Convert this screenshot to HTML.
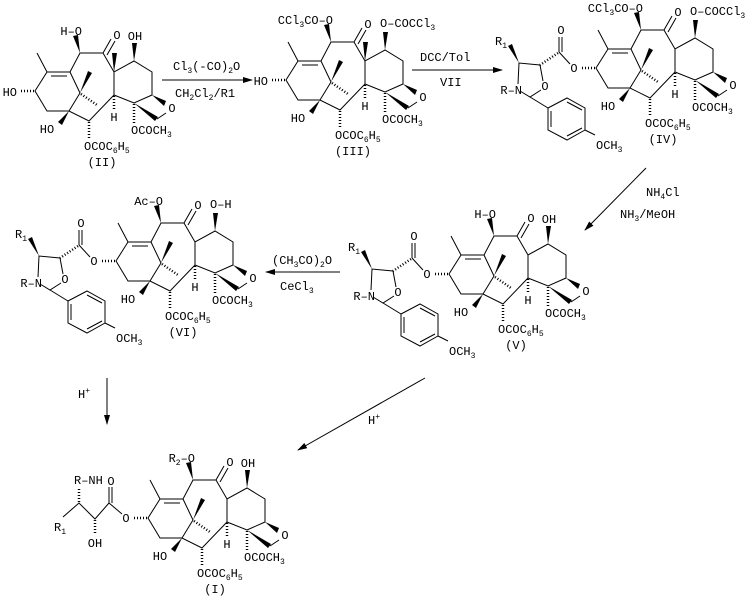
<!DOCTYPE html>
<html><head><meta charset="utf-8"><style>
html,body{margin:0;padding:0;background:#fff;}
svg{display:block;}
text{font-family:"Liberation Mono",monospace;font-size:12px;fill:#000;}
.s{font-size:8px;}
</style></head><body>
<svg width="754" height="597" viewBox="0 0 754 597" xmlns="http://www.w3.org/2000/svg">
<defs>
<g id="core" stroke="#000" stroke-width="1" fill="none">
<path d="M-10,-19 L0,0 L23,0 L33,-19 L56,-19 L67,0 L87,-11 L105,0 L105,23 L87,31 L67,23 L67,0 M67,23 L42,49 L22,39 L0,39 L-12,19 L0,0 M23,0 L33,21 L22,39 M4,4 L20,4 M56,-19 L64,-33 M60,-17 L68,-31 M110,47 L119,41"/>
<g fill="#000" stroke="none">
<polygon points="33,-19 26,-36 31,-37"/>
<polygon points="87,-11 85,-29 90,-29"/>
<polygon points="105,23 119,29 117,34"/>
<polygon points="87,31 111,45 108,49"/>
<polygon points="22,39 11,50 15,53"/>
<polygon points="33,21 41,-1 45,1"/>
</g>
<g stroke-dasharray="1,2" stroke-width="2.5">
<path d="M67,24 L67,39 M87,32 L87,52 M42,50 L42,66 M34,22 L50,33 M-13,19 L-28,19"/>
</g>
</g>
<g id="me"><polygon points="67,0 65,-19 70,-19" fill="#000"/></g>
<g id="side" stroke="#000" stroke-width="1" fill="none">
<path d="M-38,15 L-49,3 M-49,3 L-49,-12 M-46,3 L-46,-12 M-68,16 L-65,32 M-67,41 L-78,48 L-88,42 M-90,35 L-89,14 L-68,16 M-78,48 L-60,59"/>
<path d="M-60,59 L-41,49 L-23,59 L-23,81 L-41,91 L-60,81 Z M-57,62 L-57,78 M-41,53 L-26,61 M-26,79 L-41,87 M-23,81 L-13,86"/>
<path d="M-50,4 L-68,16" stroke-dasharray="1,2" stroke-width="2.5"/>
<polygon points="-89,14 -100,-3 -96,-5" fill="#000" stroke="none"/>
</g>
<marker id="ah" markerWidth="10" markerHeight="6" refX="9" refY="3" orient="auto" markerUnits="userSpaceOnUse"><polygon points="0,0 10,3 0,6" fill="#000"/></marker>
</defs>

<!-- II -->
<g transform="translate(47,72)">
<use href="#core"/><use href="#me"/>
<text x="35" y="-37" text-anchor="end">H–O</text>
<text x="88" y="-32" text-anchor="middle">OH</text>
<text x="70" y="-33" text-anchor="middle">O</text>
<text x="-30" y="24" text-anchor="end">HO</text>
<text x="0" y="61" text-anchor="middle">HO</text>
<text x="67" y="49" text-anchor="middle">H</text>
<text x="125" y="40" text-anchor="middle">O</text>
<text x="84" y="62">OCOCH<tspan class="s" dy="3">3</tspan></text>
<text x="37" y="78">OCOC<tspan class="s" dy="3">6</tspan><tspan dy="-3">H</tspan><tspan class="s" dy="3">5</tspan></text>
<text x="55" y="94" text-anchor="middle">(II)</text>
</g>

<!-- III -->
<g transform="translate(298,61)">
<use href="#core"/><use href="#me"/>
<text x="35" y="-37" text-anchor="end">CCl<tspan class="s" dy="3">3</tspan><tspan dy="-3">CO–O</tspan></text>
<text x="82" y="-34">O–COCCl<tspan class="s" dy="3">3</tspan></text>
<text x="70" y="-33" text-anchor="middle">O</text>
<text x="-30" y="24" text-anchor="end">HO</text>
<text x="0" y="61" text-anchor="middle">HO</text>
<text x="67" y="49" text-anchor="middle">H</text>
<text x="125" y="40" text-anchor="middle">O</text>
<text x="84" y="62">OCOCH<tspan class="s" dy="3">3</tspan></text>
<text x="37" y="78">OCOC<tspan class="s" dy="3">6</tspan><tspan dy="-3">H</tspan><tspan class="s" dy="3">5</tspan></text>
<text x="55" y="94" text-anchor="middle">(III)</text>
</g>

<!-- IV -->
<g transform="translate(608,49)">
<use href="#core"/><use href="#side"/>
<text x="35" y="-37" text-anchor="end">CCl<tspan class="s" dy="3">3</tspan><tspan dy="-3">CO–O</tspan></text>
<text x="82" y="-34">O–COCCl<tspan class="s" dy="3">3</tspan></text>
<text x="70" y="-33" text-anchor="middle">O</text>
<text x="-34" y="23" text-anchor="middle">O</text>
<text x="-47" y="-15" text-anchor="middle">O</text>
<text x="-63" y="41" text-anchor="middle">O</text>
<text x="-113" y="-4">R<tspan class="s" dy="3">1</tspan></text>
<text x="-86" y="45" text-anchor="end">R–N</text>
<text x="-12" y="100">OCH<tspan class="s" dy="3">3</tspan></text>
<text x="0" y="61" text-anchor="middle">HO</text>
<text x="67" y="49" text-anchor="middle">H</text>
<text x="125" y="40" text-anchor="middle">O</text>
<text x="84" y="62">OCOCH<tspan class="s" dy="3">3</tspan></text>
<text x="37" y="78">OCOC<tspan class="s" dy="3">6</tspan><tspan dy="-3">H</tspan><tspan class="s" dy="3">5</tspan></text>
<text x="55" y="94" text-anchor="middle">(IV)</text>
</g>

<!-- V -->
<g transform="translate(461,255)">
<use href="#core"/><use href="#side"/>
<text x="35" y="-37" text-anchor="end">H–O</text>
<text x="88" y="-32" text-anchor="middle">OH</text>
<text x="70" y="-33" text-anchor="middle">O</text>
<text x="-34" y="23" text-anchor="middle">O</text>
<text x="-47" y="-15" text-anchor="middle">O</text>
<text x="-63" y="41" text-anchor="middle">O</text>
<text x="-113" y="-4">R<tspan class="s" dy="3">1</tspan></text>
<text x="-86" y="45" text-anchor="end">R–N</text>
<text x="-12" y="100">OCH<tspan class="s" dy="3">3</tspan></text>
<text x="0" y="61" text-anchor="middle">HO</text>
<text x="67" y="49" text-anchor="middle">H</text>
<text x="125" y="40" text-anchor="middle">O</text>
<text x="84" y="62">OCOCH<tspan class="s" dy="3">3</tspan></text>
<text x="37" y="78">OCOC<tspan class="s" dy="3">6</tspan><tspan dy="-3">H</tspan><tspan class="s" dy="3">5</tspan></text>
<text x="55" y="94" text-anchor="middle">(V)</text>
</g>

<!-- VI -->
<g transform="translate(128,242)">
<use href="#core"/><use href="#side"/>
<text x="35" y="-37" text-anchor="end">Ac–O</text>
<text x="82" y="-34">O–H</text>
<text x="70" y="-33" text-anchor="middle">O</text>
<text x="-34" y="23" text-anchor="middle">O</text>
<text x="-47" y="-15" text-anchor="middle">O</text>
<text x="-63" y="41" text-anchor="middle">O</text>
<text x="-113" y="-4">R<tspan class="s" dy="3">1</tspan></text>
<text x="-86" y="45" text-anchor="end">R–N</text>
<text x="-12" y="100">OCH<tspan class="s" dy="3">3</tspan></text>
<text x="0" y="61" text-anchor="middle">HO</text>
<text x="67" y="49" text-anchor="middle">H</text>
<text x="125" y="40" text-anchor="middle">O</text>
<text x="84" y="62">OCOCH<tspan class="s" dy="3">3</tspan></text>
<text x="37" y="78">OCOC<tspan class="s" dy="3">6</tspan><tspan dy="-3">H</tspan><tspan class="s" dy="3">5</tspan></text>
<text x="55" y="94" text-anchor="middle">(VI)</text>
</g>

<!-- I -->
<g transform="translate(160,499)">
<use href="#core"/>
<g stroke="#000" fill="none">
<path d="M-38,15 L-51,4 M-51,4 L-51,-12 M-48,4 L-48,-12 M-51,4 L-65,20 L-81,4 L-97,18"/>
<path d="M-65,21 L-65,36 M-81,3 L-81,-12" stroke-dasharray="1,2" stroke-width="2.5"/>
</g>
<text x="-34" y="23" text-anchor="middle">O</text>
<text x="-49" y="-14" text-anchor="middle">O</text>
<text x="-86" y="-15">R–NH</text>
<text x="-106" y="32">R<tspan class="s" dy="3">1</tspan></text>
<text x="-65" y="48" text-anchor="middle">OH</text>
<text x="35" y="-37" text-anchor="end">R<tspan class="s" dy="3">2</tspan><tspan dy="-3">–O</tspan></text>
<text x="88" y="-32" text-anchor="middle">OH</text>
<text x="70" y="-33" text-anchor="middle">O</text>
<text x="0" y="61" text-anchor="middle">HO</text>
<text x="67" y="49" text-anchor="middle">H</text>
<text x="125" y="40" text-anchor="middle">O</text>
<text x="84" y="62">OCOCH<tspan class="s" dy="3">3</tspan></text>
<text x="37" y="78">OCOC<tspan class="s" dy="3">6</tspan><tspan dy="-3">H</tspan><tspan class="s" dy="3">5</tspan></text>
<text x="55" y="94" text-anchor="middle">(I)</text>
</g>

<!-- arrows -->
<g stroke="#000" stroke-width="1" fill="none">
<line x1="162" y1="80" x2="252" y2="80" marker-end="url(#ah)"/>
<line x1="412" y1="70" x2="502" y2="70" marker-end="url(#ah)"/>
<line x1="646" y1="168" x2="585" y2="230" marker-end="url(#ah)"/>
<line x1="340" y1="272" x2="266" y2="272" marker-end="url(#ah)"/>
<line x1="107" y1="378" x2="107" y2="424" marker-end="url(#ah)"/>
<line x1="425" y1="378" x2="298" y2="450" marker-end="url(#ah)"/>
</g>
<text x="173" y="70">Cl<tspan class="s" dy="3">3</tspan><tspan dy="-3">(-CO)</tspan><tspan class="s" dy="3">2</tspan><tspan dy="-3">O</tspan></text>
<text x="175" y="97">CH<tspan class="s" dy="3">2</tspan><tspan dy="-3">Cl</tspan><tspan class="s" dy="3">2</tspan><tspan dy="-3">/R1</tspan></text>
<text x="420" y="61">DCC/Tol</text>
<text x="440" y="86">VII</text>
<text x="646" y="196">NH<tspan class="s" dy="3">4</tspan><tspan dy="-3">Cl</tspan></text>
<text x="620" y="218">NH<tspan class="s" dy="3">3</tspan><tspan dy="-3">/MeOH</tspan></text>
<text x="272" y="264">(CH<tspan class="s" dy="3">3</tspan><tspan dy="-3">CO)</tspan><tspan class="s" dy="3">2</tspan><tspan dy="-3">O</tspan></text>
<text x="280" y="290">CeCl<tspan class="s" dy="3">3</tspan></text>
<text x="78" y="398">H<tspan class="s" dy="-5">+</tspan></text>
<text x="368" y="424">H<tspan class="s" dy="-5">+</tspan></text>
</svg>
</body></html>
